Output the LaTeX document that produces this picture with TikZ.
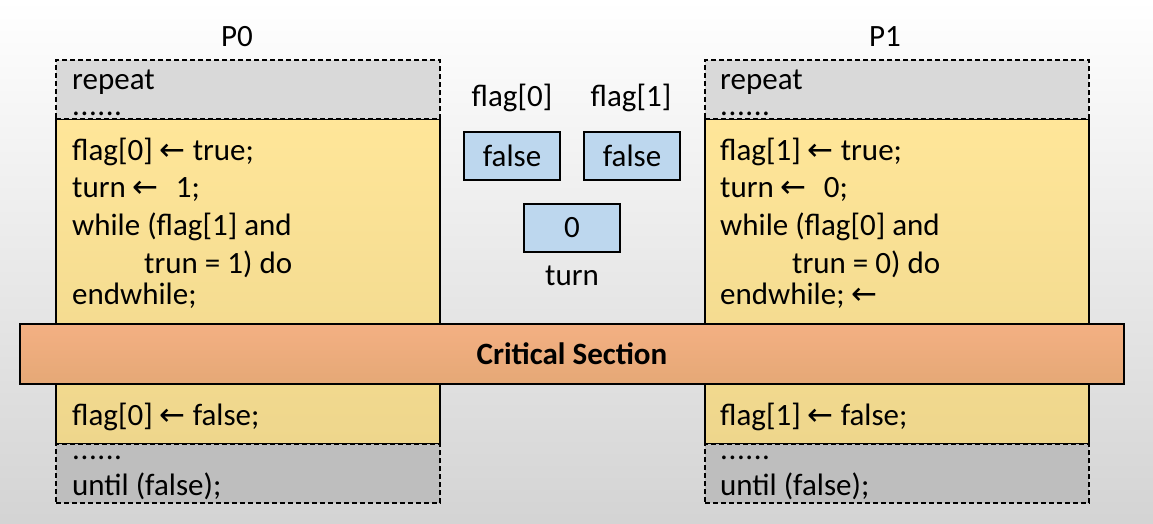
\documentclass[tikz,border=0pt]{standalone}
\usepackage{fontspec}
\setmainfont{Carlito}
\newfontfamily\arrowfont{DejaVu Sans}
\usetikzlibrary{positioning}
\definecolor{loopgray}{RGB}{217,217,217}
\definecolor{loopgraydark}{RGB}{190,190,190}
\definecolor{entryyellow}{RGB}{255,230,153}
\definecolor{entryyellowdark}{RGB}{238,214,140}
\definecolor{critorange}{RGB}{244,176,131}
\definecolor{critorangedark}{RGB}{229,168,118}
\definecolor{varblue}{RGB}{189,215,238}
\newcommand{\larr}{{\arrowfont ←}}
\newcommand{\codefont}{\fontsize{31}{38}\selectfont}
\newcommand{\moredots}{.\kern0.6pt.\kern0.6pt.\kern0.6pt.\kern0.6pt.\kern0.6pt.}
\tikzset{
  loopbox/.style={rectangle, draw=black, line width=1.1pt, dash pattern=on 5pt off 3pt,
                  minimum width=384pt, minimum height=59pt, inner sep=0pt},
  entrybox/.style={rectangle, draw=black, line width=1.1pt, top color=entryyellow,
                   bottom color=entryyellowdark, minimum width=384pt,
                   minimum height=325pt, inner sep=0pt},
  critbox/.style={rectangle, draw=black, line width=1.1pt, top color=critorange,
                  bottom color=critorangedark, minimum width=1104pt,
                  minimum height=60pt, font=\codefont\bfseries},
  varbox/.style={rectangle, draw=black, line width=1.1pt, fill=varblue,
                 minimum width=96pt, minimum height=48pt},
  codeline/.style={anchor=base west, inner sep=0pt},
  label/.style={anchor=base, inner sep=0pt},
}

\begin{document}
\begin{tikzpicture}[x=1pt, y=-1pt, font=\codefont]
    \useasboundingbox (0,0) rectangle (1153,524);
    \shade[top color=white, middle color=white, bottom color=black!17]
          (0,0) rectangle (1153,524);

    % process P0
    \node[label] (p0) at (237,47) {P0};
    \node[entrybox] (p0entry) at (248,281.5) {};
    \node[loopbox, fill=loopgray] (p0top) at (248,89.5) {};
    \node[loopbox, fill=loopgraydark] (p0bot) at (248,473.5) {};
    \node[codeline] (p0l1) at (72,90) {repeat};
    \node[codeline] (p0l2) at (72,116) {\moredots};
    \node[codeline] (p0l3) at (72,160) {flag[0] \larr{} true;};
    \node[codeline] (p0l4) at (72,197) {turn \larr{}\hspace{10pt} 1;};
    \node[codeline] (p0l5) at (72,235) {while (flag[1] and};
    \node[codeline] (p0l6) at (144,273) {trun = 1) do};
    \node[codeline] (p0l7) at (72,304) {endwhile;};
    \node[codeline] (p0l8) at (72,425) {flag[0] \larr{} false;};
    \node[codeline] (p0l9) at (72,459) {\moredots};
    \node[codeline] (p0l10) at (72,495) {until (false);};

    % process P1
    \node[label] (p1) at (885,47) {P1};
    \node[entrybox] (p1entry) at (897,281.5) {};
    \node[loopbox, fill=loopgray] (p1top) at (897,89.5) {};
    \node[loopbox, fill=loopgraydark] (p1bot) at (897,473.5) {};
    \node[codeline] (p1l1) at (720,90) {repeat};
    \node[codeline] (p1l2) at (720,116) {\moredots};
    \node[codeline] (p1l3) at (720,160) {flag[1] \larr{} true;};
    \node[codeline] (p1l4) at (720,197) {turn \larr{}\hspace{10pt} 0;};
    \node[codeline] (p1l5) at (720,235) {while (flag[0] and};
    \node[codeline] (p1l6) at (792,273) {trun = 0) do};
    \node[codeline] (p1l7) at (720,304) {endwhile; \larr};
    \node[codeline] (p1l8) at (720,425) {flag[1] \larr{} false;};
    \node[codeline] (p1l9) at (720,459) {\moredots};
    \node[codeline] (p1l10) at (720,495) {until (false);};

    % shared variables
    \node[varbox] (flag0) at (512,156) {false};
    \node[varbox] (flag1) at (632,156) {false};
    \node[varbox] (turn) at (572,228) {0};
    \node[label] (flag0name) at (512,107) {flag[0]};
    \node[label] (flag1name) at (631,107) {flag[1]};
    \node[label] (turnname) at (572,285) {turn};

    \node[critbox] (crit) at (572,354) {Critical Section};
  \end{tikzpicture}
\end{document}
